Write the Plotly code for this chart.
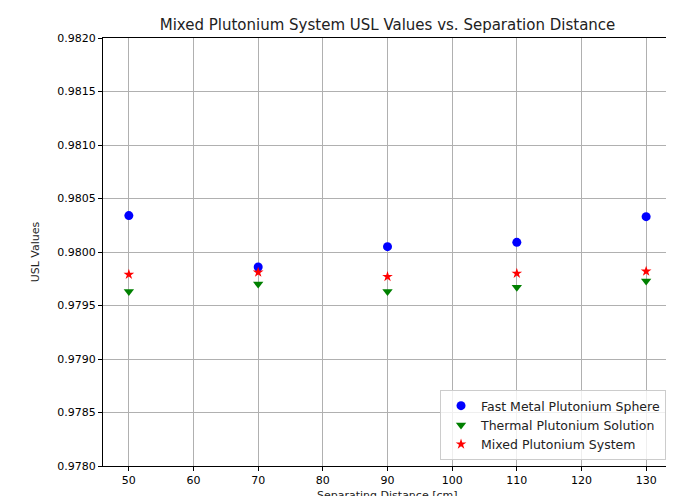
import plotly.graph_objects as go

distance = [50, 70, 90, 110, 130]
fast_metal = [0.98034, 0.97986, 0.98005, 0.98009, 0.98033]
thermal_solution = [0.97963, 0.97970, 0.97963, 0.97967, 0.97973]
mixed_system = [0.97979, 0.97981, 0.97977, 0.97980, 0.97982]

y_ticks = [0.9780 + 0.0005 * i for i in range(9)]
x_ticks = [50, 60, 70, 80, 90, 100, 110, 120, 130]

fig = go.Figure()
fig.add_trace(go.Scatter(x=distance, y=fast_metal, mode="markers", name="Fast Metal Plutonium Sphere",
                         marker=dict(symbol="circle", size=9, color="blue")))
fig.add_trace(go.Scatter(x=distance, y=thermal_solution, mode="markers", name="Thermal Plutonium Solution",
                         marker=dict(symbol="triangle-down", size=9, color="green")))
fig.add_trace(go.Scatter(x=distance, y=mixed_system, mode="markers", name="Mixed Plutonium System",
                         marker=dict(symbol="star", size=8, color="red")))

axis_common = dict(showgrid=True, gridcolor="#b0b0b0", gridwidth=1, showline=True, linecolor="black",
                   linewidth=1, mirror=True, ticks="outside", ticklen=4, tickcolor="black",
                   zeroline=False, tickfont=dict(size=11, color="black"), automargin=False)

fig.update_layout(
    width=666, height=488,
    margin=dict(l=95, r=2, t=30, b=30),
    paper_bgcolor="white", plot_bgcolor="white",
    font=dict(family="DejaVu Sans", size=11, color="#222222"),
    title=dict(text="Mixed Plutonium System USL Values vs. Separation Distance", x=0.5, xref="paper",
               xanchor="center", y=1 - 17 / 488, yref="container", yanchor="middle",
               font=dict(size=15, color="#222222")),
    xaxis=dict(range=[46, 134], tickvals=x_ticks, **axis_common),
    yaxis=dict(range=[0.9780, 0.9820], tickvals=y_ticks, tickformat=".4f",
               title=dict(text="USL Values", font=dict(size=11, color="#222222")), **axis_common),
    legend=dict(x=0.9895, y=0.014, xanchor="right", yanchor="bottom", bgcolor="rgba(255,255,255,0.8)",
                bordercolor="#cccccc", borderwidth=1, font=dict(size=12.5, color="#222222"),
                tracegroupgap=0),
    showlegend=True,
    annotations=[dict(text="Separating Distance [cm]", xref="paper", yref="paper", x=0.5, y=0,
                      xanchor="center", yanchor="middle", yshift=-29, showarrow=False,
                      font=dict(size=11, color="#222222"))],
)

fig.write_html("out.html")
